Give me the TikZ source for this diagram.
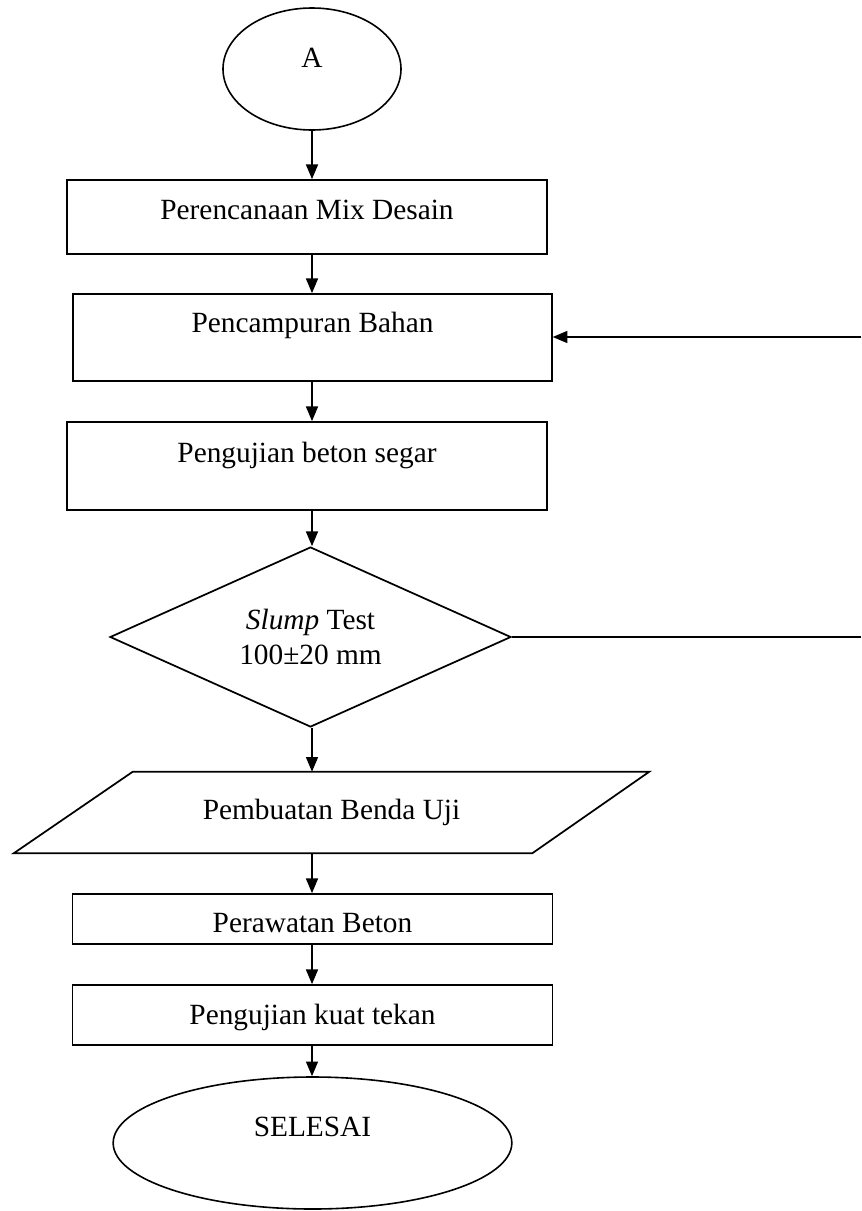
\documentclass[tikz,border=0pt]{standalone}
\usepackage{fontspec}
\setmainfont{Liberation Serif}
\usetikzlibrary{arrows.meta,shapes.geometric}

\begin{document}
\begin{tikzpicture}[x=0.75pt, y=-0.75pt,
  every node/.style={font=\fontsize{22}{26.4}\selectfont},
  proses/.style={draw, rectangle, line width=1.3pt, inner sep=0pt, minimum width=360pt, anchor=base},
  terminal/.style={draw, ellipse, line width=1.2pt, inner sep=0pt},
  panah/.style={-{Triangle[length=11pt, width=9pt]}, line width=1.1pt}]
\useasboundingbox (0,0) rectangle (861,1211);
\node[terminal, minimum width=133.5pt, minimum height=91.5pt, text height=16.5pt, text depth=19.5pt] (mulai) at (312,69) {A};
\node[proses, text height=29.25pt, text depth=26.25pt] (mix) at (307,219) {Perencanaan Mix Desain};
\node[proses, minimum width=359pt, text height=28.5pt, text depth=36.75pt] (campur) at (312.5,332) {Pencampuran Bahan};
\node[proses, text height=30pt, text depth=36pt] (segar) at (307,462) {Pengujian beton segar};
\node[draw, diamond, aspect=2.2, line width=1.3pt, inner sep=0pt, minimum width=300.75pt, minimum height=135pt, align=center] (slump) at (310.5,637) {\textit{Slump} Test\\100±20 mm};
\node[inner sep=0pt, minimum width=476.25pt, minimum height=60.75pt] (benda) at (331.5,812.5) {Pembuatan Benda Uji};
\draw[line width=1.3pt] ([xshift=89.25pt]benda.north west) -- (benda.north east) -- ([xshift=-87.75pt]benda.south east) -- (benda.south west) -- cycle;
\node[proses, text height=28.5pt, text depth=9pt] (rawat) at (312.5,932) {Perawatan Beton};
\node[proses, text height=29.25pt, text depth=15.75pt] (tekan) at (312.5,1024) {Pengujian kuat tekan};
\node[terminal, minimum width=299pt, minimum height=99pt, text height=16.5pt, text depth=27pt] (selesai) at (312.5,1143) {SELESAI};
\coordinate (balik1) at (861,337);
\coordinate (balik2) at (861,637);
\draw[panah] (mulai) -- (mulai |- mix.north);
\draw[panah] (mulai |- mix.south) -- (mulai |- campur.north);
\draw[panah] (mulai |- campur.south) -- (mulai |- segar.north);
\draw[panah] (mulai |- segar.south) -- (mulai |- slump.north);
\draw[panah] (mulai |- slump.south) -- (mulai |- benda.north);
\draw[panah] (mulai |- benda.south) -- (mulai |- rawat.north);
\draw[panah] (mulai |- rawat.south) -- (mulai |- tekan.north);
\draw[panah] (mulai |- tekan.south) -- (mulai |- selesai.north);
\draw[panah] (balik1) -- (balik1 -| campur.east);
\draw[line width=1.1pt] (slump.east) -- (balik2);
\end{tikzpicture}
\end{document}
